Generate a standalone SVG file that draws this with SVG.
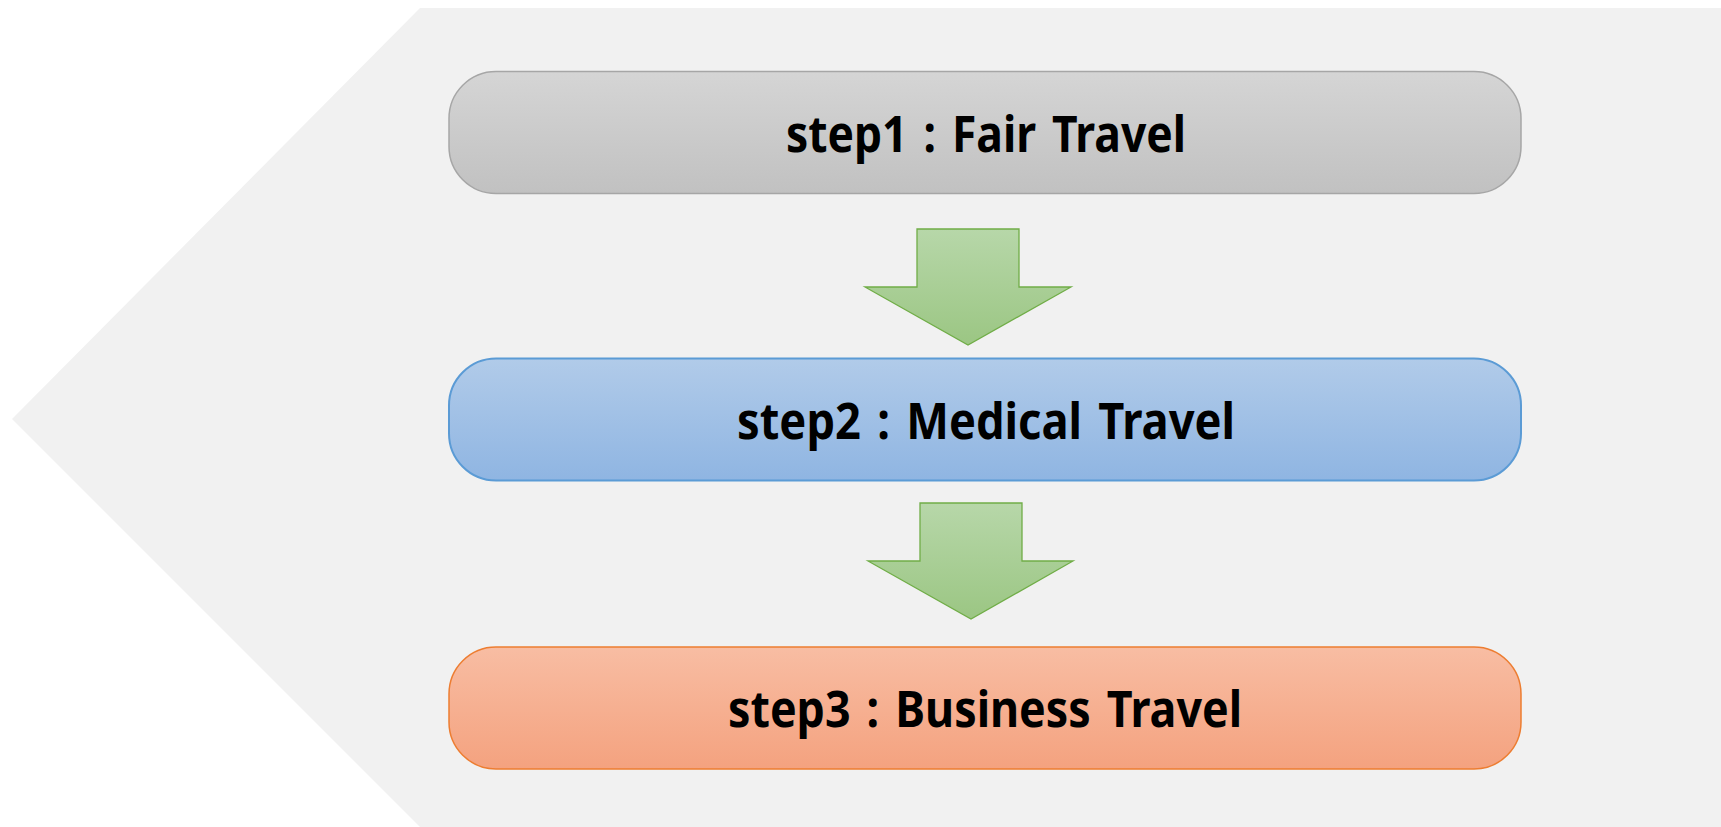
<svg xmlns="http://www.w3.org/2000/svg" width="1721" height="827" viewBox="0 0 1721 827">
<style>
.lbl{font-family:"Noto Sans","Open Sans","DejaVu Sans",sans-serif;font-weight:bold;font-size:50px;fill:#000;text-anchor:middle;word-spacing:5px}
.arrow{fill:url(#gG);stroke:#70ad47;stroke-width:1.3}
</style>
<defs>
<linearGradient id="g1" x1="0" y1="0" x2="0" y2="1"><stop offset="0" stop-color="#d5d5d5"/><stop offset="1" stop-color="#c1c1c1"/></linearGradient>
<linearGradient id="g2" x1="0" y1="0" x2="0" y2="1"><stop offset="0" stop-color="#b1cbe9"/><stop offset="1" stop-color="#8fb5e2"/></linearGradient>
<linearGradient id="g3" x1="0" y1="0" x2="0" y2="1"><stop offset="0" stop-color="#f8bda3"/><stop offset="1" stop-color="#f4a27f"/></linearGradient>
<linearGradient id="gG" x1="0" y1="0" x2="0" y2="1"><stop offset="0" stop-color="#b7d7a9"/><stop offset="1" stop-color="#9bc683"/></linearGradient>
</defs>
<rect width="1721" height="827" fill="#ffffff"/>
<polygon id="background" points="420,8 1721,8 1721,827 420,827 12,419" fill="#f1f1f1"/>
<g id="node-step1">
<rect x="449" y="71.5" width="1072" height="122" rx="47" fill="url(#g1)" stroke="#a6a6a6" stroke-width="1.5"/>
<text class="lbl" x="986" y="152" textLength="400" lengthAdjust="spacingAndGlyphs">step1 : Fair Travel</text>
</g>
<g id="node-step2">
<rect x="449" y="358.5" width="1072" height="122" rx="47" fill="url(#g2)" stroke="#5b9bd5" stroke-width="2"/>
<text class="lbl" x="986" y="439" textLength="498" lengthAdjust="spacingAndGlyphs">step2 : Medical Travel</text>
</g>
<g id="node-step3">
<rect x="449" y="647" width="1072" height="122" rx="47" fill="url(#g3)" stroke="#ed7d31" stroke-width="1.5"/>
<text class="lbl" x="985" y="727" textLength="514" lengthAdjust="spacingAndGlyphs">step3 : Business Travel</text>
</g>
<g id="connectors">
<polygon class="arrow" points="917,229 1019,229 1019,287 1071,287 968,345 865,287 917,287"/>
<polygon class="arrow" points="920,503 1022,503 1022,561 1073,561 971,619 868,561 920,561"/>
</g>
</svg>
